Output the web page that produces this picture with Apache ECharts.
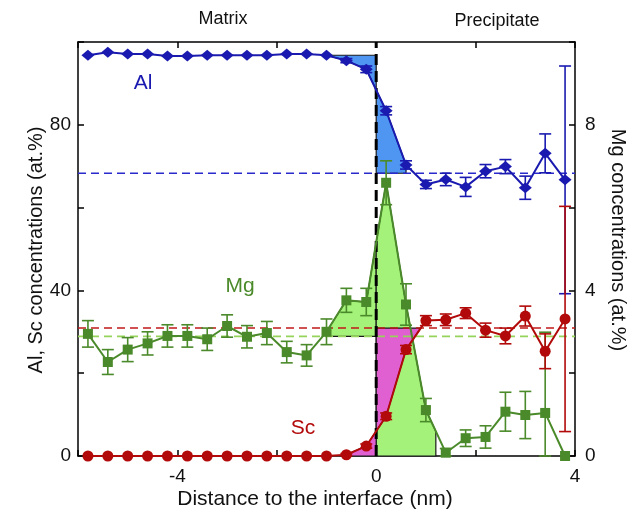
<!DOCTYPE html>
<html>
<head>
<meta charset="utf-8">
<script src="https://cdn.jsdelivr.net/npm/echarts@6/dist/echarts.min.js"></script>
<style>
html,body{margin:0;padding:0;background:#fff;}
#chart{width:631px;height:521px;}
</style>
</head>
<body>
<div id="chart"></div>
<script>
// ---------- data ----------
const xPos = [-5.8,-5.4,-5.0,-4.6,-4.2,-3.8,-3.4,-3.0,-2.6,-2.2,-1.8,-1.4,-1.0,-0.6,-0.2,0.2,0.6,1.0,1.4,1.8,2.2,2.6,3.0,3.4,3.8];
const alVals = [96.8,97.5,97.1,97.1,96.6,96.6,96.8,96.8,96.8,96.8,97.1,97.1,96.8,95.5,93.4,83.4,70.3,65.6,66.8,65.0,68.8,69.9,64.8,73.1,66.7];
const alErrs = [0,0,0,0,0,0,0,0,0,0,0,0,0,0.5,0.8,1.0,1.0,1.0,1.5,2.3,1.6,1.7,2.8,4.7,27.5];
const mgVals = [2.95,2.27,2.57,2.72,2.90,2.90,2.82,3.14,2.88,2.97,2.51,2.43,3.00,3.76,3.72,6.60,3.66,1.11,0.08,0.43,0.46,1.07,0.99,1.04,0.00];
const mgErrs = [0.32,0.30,0.29,0.28,0.27,0.27,0.27,0.27,0.27,0.28,0.26,0.26,0.31,0.29,0.33,0.53,0.50,0.28,0.10,0.20,0.27,0.47,0.57,1.95,0];
const scVals = [0,0,0,0,0,0,0,0,0,0,0,0,0,0.3,2.4,9.6,25.7,32.7,32.9,34.5,30.4,29.0,33.8,25.3,33.1];
const scErrs = [0,0,0,0,0,0,0,0,0,0,0,0,0,0.3,0.5,0.8,1.0,1.2,1.4,1.3,1.7,1.9,2.4,4.2,27.2];
const alRef = 68.3;      // Al level in precipitate (dashed)
const alMatrix = 96.8;   // Al level in matrix
const scRef = 30.9;      // Sc level in precipitate (dashed)
const mgRef = 2.89;      // Mg level in matrix (dashed)
const xTickLabels = [-4, 0, 4];
const yLeftLabels = [0, 40, 80];
const yRightLabels = [0, 4, 8];
// shaded regions: [series, x from, x to, base level, axis, colour]
const shadeRegions = [
  ['mg', -1.0, 0, mgRef, 1, '#a4f27a'],
  ['mg', 0, 1.2, 0, 1, '#a4f27a'],
  ['sc', -0.6, 0, 0, 0, '#e060d2'],
  ['sc', 0, 0.88, scRef, 0, '#e060d2'],
  ['al', -1.0, 0, alMatrix, 0, '#4f95f2'],
  ['al', 0, 0.6, alRef, 0, '#4f95f2']
];

// ---------- helpers ----------
const seriesMap = {al: alVals, mg: mgVals, sc: scVals};
function interp(vals, x) {
  for (let i = 0; i < xPos.length - 1; i++) {
    if (x >= xPos[i] && x <= xPos[i+1]) {
      const t = (x - xPos[i]) / (xPos[i+1] - xPos[i]);
      return vals[i] + t * (vals[i+1] - vals[i]);
    }
  }
  return vals[vals.length-1];
}
function regionPoly(vals, x0, x1, base) {
  const pts = [[x0, base], [x0, interp(vals, x0)]];
  xPos.forEach((x, i) => { if (x > x0 && x < x1) pts.push([x, vals[i]]); });
  pts.push([x1, interp(vals, x1)]);
  pts.push([x1, base]);
  return pts;
}
function polySeries(reg) {
  const pts = regionPoly(seriesMap[reg[0]], reg[1], reg[2], reg[3]);
  return {
    type: 'custom', yAxisIndex: reg[4], z: 1, silent: true,
    data: [[reg[1], reg[3]]],
    encode: {x: 0, y: 1},
    renderItem: function (params, api) {
      return {
        type: 'polygon',
        shape: {points: pts.map(p => api.coord(p))},
        style: {fill: reg[5], stroke: '#1a1a1a', lineWidth: 1.2}
      };
    }
  };
}
function errSeries(vals, errs, axis, color) {
  const data = [];
  xPos.forEach((x, i) => { if (errs[i] > 0) data.push([x, Math.max(0, vals[i] - errs[i]), vals[i] + errs[i]]); });
  return {
    type: 'custom', yAxisIndex: axis, z: 3, silent: true,
    data: data,
    encode: {x: 0, y: [1, 2]},
    renderItem: function (params, api) {
      const x = api.value(0);
      const a = api.coord([x, api.value(2)]);
      const b = api.coord([x, api.value(1)]);
      const w = 6;
      const st = {stroke: color, lineWidth: 1.6};
      return {type: 'group', children: [
        {type: 'line', shape: {x1: a[0], y1: a[1], x2: b[0], y2: b[1]}, style: st},
        {type: 'line', shape: {x1: a[0]-w, y1: a[1], x2: a[0]+w, y2: a[1]}, style: st},
        {type: 'line', shape: {x1: b[0]-w, y1: b[1], x2: b[0]+w, y2: b[1]}, style: st}
      ]};
    }
  };
}
function dataLine(vals, axis, color, symbol, size) {
  return {
    type: 'line', yAxisIndex: axis, z: 4, silent: true,
    data: xPos.map((x, i) => [x, vals[i]]),
    symbol: symbol, symbolSize: size, showSymbol: true,
    lineStyle: {color: color, width: 2},
    itemStyle: {color: color}
  };
}
function refLine(y, axis, color, dash, width) {
  return {
    type: 'line', yAxisIndex: axis, z: 2, silent: true,
    data: [[-6, y], [4, y]], symbol: 'none',
    lineStyle: {color: color, width: width, type: dash}
  };
}

const FONT = 'Liberation Sans, Arial, Helvetica, sans-serif';
const TICKFONT = 19;
function axisCommon() {
  return {
    axisLine: {show: true, onZero: false, lineStyle: {color: '#000', width: 1.5}},
    axisTick: {show: true, inside: true, length: 6, lineStyle: {color: '#000', width: 1.5}},
    splitLine: {show: false}
  };
}

const option = {
  animation: false,
  backgroundColor: '#fff',
  grid: {left: 78, right: 56, top: 42, bottom: 65},
  xAxis: [
    Object.assign({
      type: 'value', min: -6, max: 4, interval: 2, position: 'bottom',
      axisLabel: {fontFamily: FONT, fontSize: TICKFONT, color: '#111', margin: 11,
        formatter: v => xTickLabels.indexOf(v) >= 0 ? String(v) : ''}
    }, axisCommon()),
    Object.assign({
      type: 'value', min: -6, max: 4, interval: 2, position: 'top',
      axisLabel: {show: false}
    }, axisCommon())
  ],
  yAxis: [
    Object.assign({
      type: 'value', min: 0, max: 100, interval: 20, position: 'left',
      axisLabel: {fontFamily: FONT, fontSize: TICKFONT, color: '#111', margin: 7,
        formatter: v => yLeftLabels.indexOf(v) >= 0 ? String(v) : ''}
    }, axisCommon()),
    Object.assign({
      type: 'value', min: 0, max: 10, interval: 2, position: 'right',
      axisLabel: {fontFamily: FONT, fontSize: TICKFONT, color: '#111', margin: 10,
        formatter: v => yRightLabels.indexOf(v) >= 0 ? String(v) : ''}
    }, axisCommon())
  ],
  graphic: [
    {type: 'text', x: 223, y: 19, style: {text: 'Matrix', font: '18px ' + FONT, fill: '#111', align: 'center', verticalAlign: 'middle'}},
    {type: 'text', x: 497, y: 21, style: {text: 'Precipitate', font: '18px ' + FONT, fill: '#111', align: 'center', verticalAlign: 'middle'}},
    {type: 'text', x: 315, y: 499, style: {text: 'Distance to the interface (nm)', font: '21px ' + FONT, fill: '#111', align: 'center', verticalAlign: 'middle'}},
    {type: 'text', x: 36, y: 250, rotation: Math.PI / 2, style: {text: 'Al, Sc concentrations (at.%)', font: '20px ' + FONT, fill: '#111', align: 'center', verticalAlign: 'middle'}},
    {type: 'text', x: 618, y: 240, rotation: -Math.PI / 2, style: {text: 'Mg concentrations (at.%)', font: '20px ' + FONT, fill: '#111', align: 'center', verticalAlign: 'middle'}},
    {type: 'text', x: 143, y: 83, z: 10, style: {text: 'Al', font: '21px ' + FONT, fill: '#1a1ab0', align: 'center', verticalAlign: 'middle'}},
    {type: 'text', x: 240, y: 286, z: 10, style: {text: 'Mg', font: '21px ' + FONT, fill: '#4b8a2a', align: 'center', verticalAlign: 'middle'}},
    {type: 'text', x: 303, y: 428, z: 10, style: {text: 'Sc', font: '21px ' + FONT, fill: '#b20a0a', align: 'center', verticalAlign: 'middle'}}
  ],
  series: [].concat(
    shadeRegions.map(polySeries),
    [
      refLine(alRef, 0, '#2a2acc', [8, 5], 1.6),
      refLine(scRef, 0, '#c01818', [8, 5], 1.6),
      refLine(mgRef, 1, '#95d35a', [8, 5], 1.6),
      {type: 'line', yAxisIndex: 0, z: 2, silent: true, data: [[0, 0], [0, 100]], symbol: 'none',
        lineStyle: {color: '#000', width: 3, type: [11, 6]}},
      errSeries(alVals, alErrs, 0, '#1a1ab0'),
      errSeries(mgVals, mgErrs, 1, '#4b8a2a'),
      errSeries(scVals, scErrs, 0, '#b20a0a'),
      dataLine(alVals, 0, '#1a1ab0', 'diamond', [13, 11]),
      dataLine(mgVals, 1, '#4b8a2a', 'rect', 10),
      dataLine(scVals, 0, '#b20a0a', 'circle', 11)
    ]
  )
};

const chart = echarts.init(document.getElementById('chart'), null, {renderer: 'canvas'});
chart.setOption(option);
</script>
</body>
</html>
